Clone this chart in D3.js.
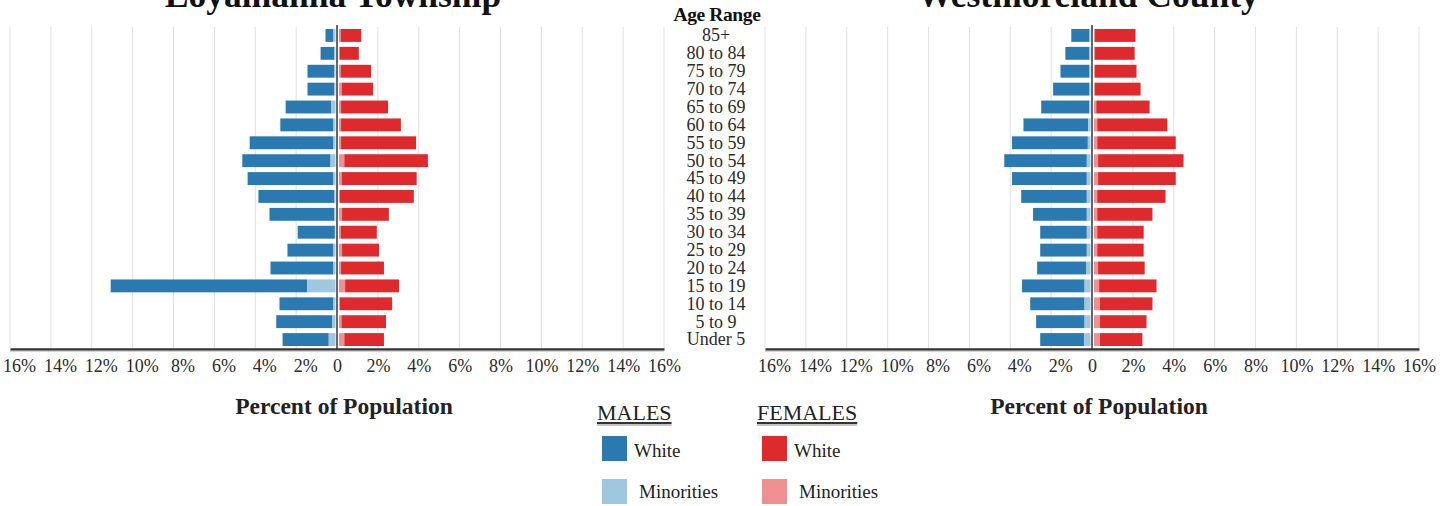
<!DOCTYPE html>
<html>
<head>
<meta charset="utf-8">
<script src="https://cdn.jsdelivr.net/npm/d3@7"></script>
<style>
  body { margin: 0; background: #fff; }
  svg { display: block; font-family: "Liberation Serif", "Times New Roman", serif; }
  .grid line { stroke: #e0e0e0; stroke-width: 1; }
  .axis text { font-size: 18px; fill: #2a2a2a; font-family: "Liberation Serif", serif; }
  .axis path { stroke: #333; stroke-width: 2.5; }
</style>
</head>
<body>
<div id="chart"></div>
<script>
'use strict';

// age groups, top to bottom
const ageGroups = ["85+", "80 to 84", "75 to 79", "70 to 74", "65 to 69", "60 to 64", "55 to 59",
    "50 to 54", "45 to 49", "40 to 44", "35 to 39", "30 to 34", "25 to 29", "20 to 24",
    "15 to 19", "10 to 14", "5 to 9", "Under 5"]

// Loyalhanna Township (% of population)
const townMaleWhite = [0.39, 0.68, 1.32, 1.32, 2.24, 2.6, 4.1, 4.32, 4.2, 3.72, 3.18, 1.82, 2.25, 3.08, 9.62, 2.64, 2.75, 2.26]
const townMaleMinority = [0.1, 0.05, 0.05, 0.05, 0.2, 0.1, 0.1, 0.24, 0.1, 0.05, 0.05, 0.03, 0.1, 0.1, 1.38, 0.1, 0.15, 0.33]
const townFemaleWhite = [1.01, 0.94, 1.49, 1.54, 2.3, 2.93, 3.67, 4.09, 3.67, 3.61, 2.29, 1.77, 1.81, 2.1, 2.64, 2.55, 2.18, 1.94]
const townFemaleMinority = [0.08, 0.03, 0.08, 0.13, 0.1, 0.1, 0.1, 0.26, 0.13, 0.05, 0.15, 0.08, 0.15, 0.1, 0.3, 0.05, 0.12, 0.26]

// Westmoreland County (% of population)
const countyMaleWhite = [0.89, 1.18, 1.42, 1.78, 2.34, 3.17, 3.71, 4.04, 3.66, 3.21, 2.63, 2.28, 2.28, 2.39, 3.06, 2.66, 2.37, 2.15]
const countyMaleMinority = [0.05, 0.05, 0.05, 0.05, 0.07, 0.11, 0.13, 0.18, 0.18, 0.18, 0.18, 0.18, 0.18, 0.22, 0.29, 0.29, 0.29, 0.31]
const countyFemaleWhite = [1.98, 1.94, 2.03, 2.23, 2.61, 3.43, 3.84, 4.18, 3.8, 3.34, 2.7, 2.27, 2.27, 2.28, 2.81, 2.57, 2.28, 2.08]
const countyFemaleMinority = [0.05, 0.05, 0.05, 0.05, 0.11, 0.16, 0.16, 0.2, 0.2, 0.16, 0.16, 0.16, 0.16, 0.2, 0.25, 0.29, 0.29, 0.29]

const xTicks = [-16, -14, -12, -10, -8, -6, -4, -2, 0, 2, 4, 6, 8, 10, 12, 14, 16]

const colors = {
    maleWhite: "#2a79b1",
    maleMinority: "#9fc8de",
    femaleWhite: "#de2a2c",
    femaleMinority: "#ef9192"
}

var width = 1456,
    height = 506;
const axisY = 349

var svg = d3.select("#chart").append("svg")
    .attr("width", width)
    .attr("height", height)

var y = d3.scaleBand()
    .domain(ageGroups)
    .range([26.5, 348.5])
    .paddingInner(0.28)
    .paddingOuter(0.14)

const drawPyramid = (x0, x1, title, maleWhite, maleMinority, femaleWhite, femaleMinority) => {
    var x = d3.scaleLinear().domain([-16, 16]).range([x0, x1])
    var g = svg.append("g")
    const cx = x(0)

    // grid
    g.append("g").attr("class", "grid")
        .selectAll("line")
        .data(xTicks.filter(d => d !== 0))
        .enter().append("line")
        .attr("x1", d => x(d)).attr("x2", d => x(d))
        .attr("y1", 27).attr("y2", axisY)

    const rows = ageGroups.map((a, i) => ({
        age: a,
        mw: maleWhite[i], mm: maleMinority[i],
        fw: femaleWhite[i], fm: femaleMinority[i]
    }))

    // males: minority next to centre, white outside
    const mOff = -1.5, fOff = 2
    g.append("g").selectAll("rect")
        .data(rows).enter().append("rect")
        .attr("x", d => x(-(d.mw + d.mm)) + mOff)
        .attr("width", d => x(0) - x(-d.mw))
        .attr("y", d => y(d.age))
        .attr("height", y.bandwidth())
        .attr("fill", colors.maleWhite)
    g.append("g").selectAll("rect")
        .data(rows).enter().append("rect")
        .attr("x", d => x(-d.mm) + mOff)
        .attr("width", d => x(0) - x(-d.mm))
        .attr("y", d => y(d.age))
        .attr("height", y.bandwidth())
        .attr("fill", colors.maleMinority)

    // females
    g.append("g").selectAll("rect")
        .data(rows).enter().append("rect")
        .attr("x", d => x(0) + fOff)
        .attr("width", d => x(d.fm) - x(0))
        .attr("y", d => y(d.age))
        .attr("height", y.bandwidth())
        .attr("fill", colors.femaleMinority)
    g.append("g").selectAll("rect")
        .data(rows).enter().append("rect")
        .attr("x", d => x(d.fm) + fOff)
        .attr("width", d => x(d.fw) - x(0))
        .attr("y", d => y(d.age))
        .attr("height", y.bandwidth())
        .attr("fill", colors.femaleWhite)

    // zero line
    g.append("line")
        .attr("x1", cx).attr("x2", cx)
        .attr("y1", 25).attr("y2", axisY)
        .attr("stroke", "#333").attr("stroke-width", 1.5)

    // axis
    var axis = g.append("g").attr("class", "axis")
        .attr("transform", `translate(0,${axisY})`)
        .call(d3.axisBottom(x).tickValues(xTicks).tickSize(0).tickPadding(10)
            .tickFormat(d => d === 0 ? "0" : Math.abs(d) + "%"))
    axis.selectAll("text").attr("dx", d => d < 0 ? 9 : 0)
    g.append("line")
        .attr("x1", x0).attr("x2", x1)
        .attr("y1", axisY + 2).attr("y2", axisY + 2)
        .attr("stroke", "#aaa").attr("stroke-width", 1)

    // title (cut at the top, as in the source)
    g.append("text")
        .attr("x", cx - 4).attr("y", 7)
        .attr("text-anchor", "middle")
        .style("font-size", "35.5px").style("font-weight", "bold").style("fill", "#111")
        .text(title)

    g.append("text")
        .attr("x", cx + 7).attr("y", 414)
        .attr("text-anchor", "middle")
        .style("font-size", "23.5px").style("font-weight", "bold").style("fill", "#222")
        .text("Percent of Population")
}

drawPyramid(10, 664, "Loyalhanna Township", townMaleWhite, townMaleMinority, townFemaleWhite, townFemaleMinority)
drawPyramid(765, 1419, "Westmoreland County", countyMaleWhite, countyMaleMinority, countyFemaleWhite, countyFemaleMinority)

// centre age labels
svg.append("text")
    .attr("x", 717).attr("y", 20.5)
    .attr("text-anchor", "middle")
    .style("font-size", "19.5px").style("font-weight", "bold").style("letter-spacing", "-0.4px").style("fill", "#111")
    .text("Age Range")

svg.append("g").selectAll("text")
    .data(ageGroups).enter().append("text")
    .attr("x", 716)
    .attr("y", d => y(d) + y.bandwidth() / 2)
    .attr("dy", "0.33em")
    .attr("text-anchor", "middle")
    .style("font-size", "18px").style("fill", "#2a2a2a")
    .text(d => d)

// legend
const legendCols = [
    { title: "MALES", x: 597, items: [["White", colors.maleWhite], ["Minorities", colors.maleMinority]] },
    { title: "FEMALES", x: 757, items: [["White", colors.femaleWhite], ["Minorities", colors.femaleMinority]] }
]
var legend = svg.append("g").selectAll("g")
    .data(legendCols).enter().append("g")
    .attr("transform", d => `translate(${d.x},0)`)
legend.append("text")
    .attr("x", 0).attr("y", 420)
    .style("font-size", "22px").style("fill", "#222")
    .text(d => d.title)
legend.each(function (d) {
    var el = d3.select(this)
    var w = el.select("text").node().getComputedTextLength()
    el.append("line").attr("x1", 0).attr("x2", w).attr("y1", 423).attr("y2", 423)
        .attr("stroke", "#333").attr("stroke-width", 2)
    el.append("line").attr("x1", 0).attr("x2", w).attr("y1", 425).attr("y2", 425)
        .attr("stroke", "#888").attr("stroke-width", 1)
    d.items.forEach((it, i) => {
        el.append("rect")
            .attr("x", 5).attr("y", 436 + i * 43)
            .attr("width", 25).attr("height", 25)
            .attr("fill", it[1])
        el.append("text")
            .attr("x", i === 0 ? 37 : 42).attr("y", 457 + i * 40.5)
            .style("font-size", "19px").style("fill", "#222")
            .text(it[0])
    })
})
</script>
</body>
</html>
